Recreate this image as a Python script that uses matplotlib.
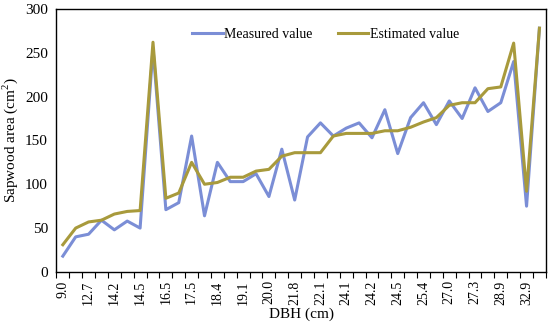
import numpy as np
import matplotlib
matplotlib.use('Agg')
import matplotlib.pyplot as plt

plt.rcParams['font.family'] = ['Liberation Serif', 'DejaVu Serif']
plt.rcParams['mathtext.fontset'] = 'custom'
plt.rcParams['mathtext.rm'] = 'Liberation Serif'

# DBH labels shown on every other category
tick_labels = ['9.0', '12.7', '14.2', '14.5', '16.5', '17.5', '18.4', '19.1', '20.0',
               '21.8', '22.1', '24.1', '24.2', '24.5', '25.4', '27.0', '27.3', '28.9', '32.9']

measured = [18, 40, 43, 59, 48, 58, 50, 255, 71, 79,
            155, 64, 125, 103, 103, 112, 86, 140, 82, 154,
            170, 155, 164, 170, 153, 185, 135, 176, 193, 168,
            195, 175, 210, 183, 193, 240, 75, 278]

estimated = [31, 50, 57, 59, 66, 69, 70, 262, 84, 90,
             125, 100, 102, 108, 108, 115, 117, 132, 136, 136,
             136, 155, 158, 158, 158, 161, 161, 165, 171, 176,
             190, 193, 193, 209, 211, 261, 92, 278]

x = np.arange(len(measured))

fig = plt.figure(figsize=(5.5, 3.3), dpi=100)
ax = fig.add_axes([0.1025, 0.176, 0.89, 0.797])

ax.plot(x, measured, color='#7b8ed6', linewidth=2.2, label='Measured value')
ax.plot(x, estimated, color='#a89a3c', linewidth=2.2, label='Estimated value')

ax.set_xlim(-0.5, len(x) - 0.5)
ax.set_ylim(0, 300)
ax.set_yticks(range(0, 301, 50))
ax.tick_params(axis='y', labelsize=11, length=0, pad=6)

ax.set_xticks(x[::2])
ax.set_xticklabels(tick_labels, rotation=90, fontsize=10)
ax.tick_params(axis='x', which='major', length=0, pad=6)
ax.set_xticks(np.arange(-0.5, len(x), 1), minor=True)
ax.tick_params(axis='x', which='minor', direction='out', length=4, width=0.8)

for s in ax.spines.values():
    s.set_linewidth(1.0)
    s.set_color('black')

ax.set_xlabel('DBH (cm)', fontsize=11, labelpad=2)
ax.set_ylabel('Sapwood area (cm$^{\\mathrm{2}}$)', fontsize=11, labelpad=4)

ax.legend(loc='upper center', bbox_to_anchor=(0.55, 0.975), ncol=2, frameon=False,
          fontsize=10, handlelength=2.2, columnspacing=1.8, handletextpad=0.1)

fig.savefig('out.png', dpi=100)
